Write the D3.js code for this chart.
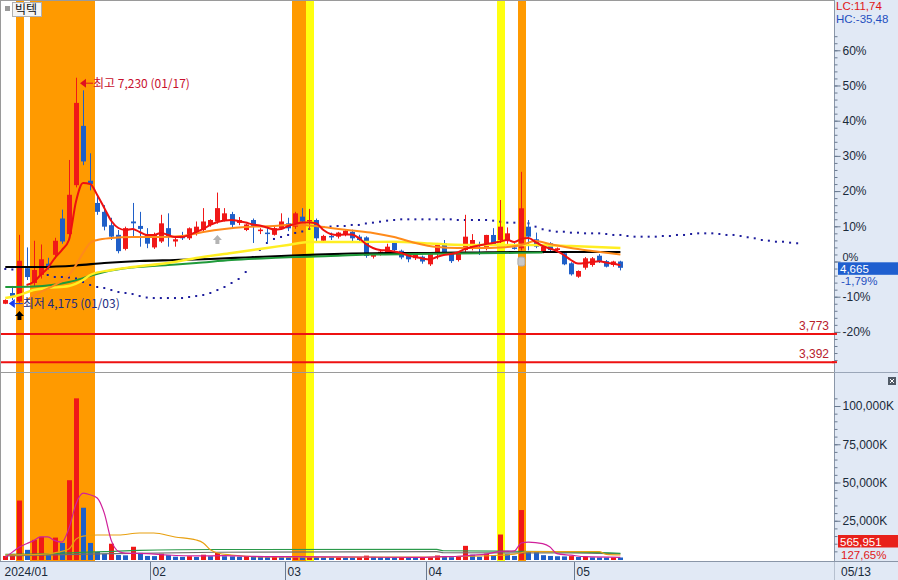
<!DOCTYPE html>
<html><head><meta charset="utf-8">
<script src="https://cdn.jsdelivr.net/npm/d3@7"></script>
<style>body{margin:0;background:#fff;} svg{display:block;font-family:"Liberation Sans",Arial,sans-serif;}</style>
</head><body><svg id="c" width="898" height="580"></svg>
<script>
// ---------------- DATA ----------------
const stockName = "빅텍";
const dates = ["01/03","01/04","01/05","01/08","01/09","01/10","01/11","01/12","01/15","01/16",
"01/17","01/18","01/19","01/22","01/23","01/24","01/25","01/26","01/29","01/30",
"01/31","02/01","02/02","02/05","02/06","02/07","02/08","02/13","02/14","02/15",
"02/16","02/19","02/20","02/21","02/22","02/23","02/26","02/27","02/28","02/29",
"03/04","03/05","03/06","03/07","03/08","03/11","03/12","03/13","03/14","03/15",
"03/18","03/19","03/20","03/21","03/22","03/25","03/26","03/27","03/28","03/29",
"04/01","04/02","04/03","04/04","04/05","04/08","04/09","04/11","04/12","04/15",
"04/16","04/17","04/18","04/19","04/22","04/23","04/24","04/25","04/26","04/29",
"04/30","05/02","05/03","05/07","05/08","05/09","05/10","05/13"];
const open = [4180,4325,4210,4660,4460,4570,4720,4840,5330,5120,
5780,6580,5840,5540,5420,5240,5110,4920,5290,5230,
5110,4940,5020,5200,5020,5085,5063,5130,5175,5243,
5290,5310,5390,5270,5175,5310,5165,5140,5110,5200,
5265,5220,5355,5290,5310,5030,5095,5085,5110,5150,
5085,5075,4815,4850,4870,5000,4895,4825,4795,4815,
4712,4850,4996,4860,4770,4905,4928,4980,4928,5108,
5040,5040,4940,4928,5220,5050,4882,4996,4905,4861,
4726,4545,4666,4703,4828,4755,4703,4750];
const high = [4240,4420,5110,4940,5030,4980,4800,5070,5450,6120,
7230,7060,6210,5650,5510,5340,5175,5220,5540,5420,
5200,5140,5380,5400,5070,5150,5210,5290,5470,5320,
5680,5470,5420,5350,5260,5330,5200,5220,5230,5400,
5340,5420,5470,5460,5330,5110,5140,5150,5180,5180,
5110,5090,4860,4900,4990,5010,4910,4860,4850,4830,
4860,5000,5040,4870,4870,5380,5120,5017,5110,5200,
5580,5210,5000,5960,5310,5140,4960,5010,4940,4870,
4740,4630,4810,4810,4850,4770,4760,4760];
const low = [4175,4230,4190,4500,4410,4520,4640,4790,4990,5100,
5750,6050,5710,5380,5170,5040,4860,4900,5085,4950,
4930,4920,5000,4950,4950,5040,5040,5100,5150,5220,
5260,5290,5200,5240,5160,5000,5120,4990,5100,5180,
5160,5190,5270,5180,5020,5000,5040,5060,5090,5000,
5020,4800,4790,4830,4840,4880,4780,4740,4770,4720,
4690,4780,4870,4730,4750,4880,4900,4838,4900,4960,
5000,4970,4910,4900,4900,4930,4860,4880,4890,4700,
4560,4530,4640,4680,4730,4670,4680,4630];
const close = [4230,4270,4760,4540,4635,4780,4680,5030,5020,5650,
6890,6100,5795,5420,5220,5085,4890,5200,5265,5190,
4990,5110,5265,5085,5050,5063,5198,5220,5290,5310,
5470,5400,5245,5310,5250,5220,5180,5125,5200,5290,
5198,5400,5290,5310,5063,5095,5080,5140,5165,5063,
5040,4825,4850,4882,4950,4905,4805,4780,4840,4750,
4850,4996,4875,4755,4860,5085,5040,4970,5108,4973,
5220,5130,4928,5468,5085,4950,4950,4905,4928,4712,
4577,4622,4793,4793,4747,4680,4750,4665];
// volume in thousands of shares (K)
const volume = [2000,3300,38200,6000,12500,14500,2500,14000,10500,51500,
105000,33500,10500,4600,3300,10000,2600,2400,8000,4000,
2000,1900,3500,2500,1500,1400,1800,1300,2800,1800,
4000,1800,1700,1500,1900,1600,1300,1200,1300,1200,
1100,1500,1300,1400,1200,1100,1000,1050,950,900,
1300,2200,1400,1200,1100,1000,1100,1000,900,1000,
1100,2300,1500,1200,1300,8600,2800,1500,3500,2500,
16000,3500,2000,32000,5000,4500,2500,2000,1800,1700,
1900,1300,1500,1100,1000,900,1000,566];
// price moving averages: [dayIndex, price]
const maRed = [[3,4433],[4,4473],[5,4568],[6,4662],[7,4797],[8,4905],[9,5040],[10,5560],[11,5810],[12,5796],
[13,5648],[14,5472],[15,5296],[16,5202],[17,5175],[18,5189],[19,5148],[20,5108],[21,5108],[22,5135],
[23,5108],[24,5080],[25,5080],[26,5108],[27,5148],[28,5189],[29,5243],[30,5283],[31,5303],[32,5310],
[33,5297],[34,5276],[35,5249],[36,5236],[37,5209],[38,5182],[39,5189],[40,5229],[41,5256],[42,5276],
[43,5276],[44,5263],[45,5175],[46,5121],[47,5108],[48,5114],[49,5114],[50,5067],[51,4986],[52,4932],
[53,4905],[54,4898],[55,4885],[56,4865],[57,4831],[58,4811],[59,4790],[60,4777],[61,4811],[62,4838],
[63,4851],[64,4871],[65,4919],[66,4946],[67,4966],[68,4986],[69,5000],[70,5020],[71,5040],[72,5013],
[73,5054],[74,5067],[75,5013],[76,4959],[77,4925],[78,4892],[79,4838],[80,4770],[81,4723],[82,4730],
[83,4745],[84,4755],[85,4735],[86,4720],[87,4700]];
const maOrange = [[3,4230],[5,4338],[7,4433],[9,4568],[10,4703],[11,4865],[12,5000],[13,5040],[15,5067],
[18,5080],[22,5080],[25,5094],[28,5148],[31,5189],[34,5216],[38,5229],[41,5249],[43,5236],[46,5202],
[49,5168],[52,5135],[55,5080],[58,5000],[61,4946],[64,4932],[67,4932],[70,4939],[73,4973],[75,5027],
[77,4986],[80,4932],[83,4892],[87,4845]];
const maYellow = [[0,4258],[2,4298],[4,4365],[6,4392],[9,4419],[11,4500],[12,4568],[15,4635],[18,4676],
[23,4730],[27,4797],[32,4865],[37,4932],[40,4973],[43,5013],[46,5013],[50,5013],[55,5017],[60,4993],
[65,4973],[70,4973],[75,4973],[80,4959],[87,4932]];
const maGreen = [[0,4406],[4,4413],[9,4473],[12,4554],[14,4608],[18,4669],[23,4703],[27,4730],[32,4770],
[37,4793],[41,4811],[46,4824],[52,4844],[58,4851],[64,4858],[70,4865],[76,4871]];
const maBlack = [[0,4676],[5,4676],[10,4696],[14,4730],[19,4757],[24,4770],[29,4784],[34,4804],[39,4824],
[44,4844],[49,4858],[54,4865],[60,4865],[66,4871],[72,4878],[80,4878],[87,4878]];
// leading span (dotted), one value per day index 0..112
const spanDots = [4649,4642,4622,4608,4595,4581,4568,4541,4541,4534,
4521,4473,4433,4406,4392,4365,4338,4325,4311,4284,
4264,4257,4257,4257,4257,4257,4271,4284,4298,4325,
4365,4406,4460,4514,4608,4811,4905,5000,5054,5081,
5108,5135,5155,5189,5202,5216,5222,5229,5229,5243,
5243,5263,5274,5287,5301,5310,5319,5319,5319,5319,
5319,5319,5319,5319,5310,5310,5310,5310,5310,5301,
5287,5274,5274,5274,5265,5220,5185,5166,5152,5152,
5139,5139,5130,5130,5130,5121,5108,5108,5094,5085,
5085,5085,5085,5094,5094,5108,5108,5121,5130,5130,
5130,5121,5108,5108,5094,5077,5063,5040,5031,5017,
5017,5004,4996];
// volume moving averages (K): [dayIndex, value]
const volMagenta = [[0,1000],[1,4500],[2,7800],[3,10000],[4,12000],[5,14400],[6,14400],[7,12000],[8,11000],
[9,20000],[10,36000],[11,43000],[12,42000],[13,39900],[14,30000],[15,12000],[16,5000],[17,3800],[20,3500],
[23,2600],[27,2000],[31,2200],[34,1800],[40,1500],[50,1300],[58,1000],[61,1400],[64,1800],[66,2500],
[68,3200],[70,5000],[72,5300],[73,10500],[74,11000],[76,10000],[77,8000],[78,3500],[80,2500],[82,1500],[87,1100]];
const volGold = [[0,2600],[5,3000],[8,5000],[9,6500],[10,13000],[11,15000],[13,15700],[16,15700],[19,17000],
[21,17000],[24,14400],[27,12400],[28,10500],[29,6000],[30,3900],[32,2600],[37,1300],[50,1200],[60,1300],
[65,1800],[69,2300],[72,3200],[74,4800],[84,4800],[85,3000],[87,2600]];
const volGreen = [[0,3100],[5,3400],[10,4200],[14,4800],[19,5700],[30,6200],[61,6300],[62,5400],[78,4800],[87,3700]];
const volGray = [[0,2000],[15,3500],[30,4400],[61,4800],[62,4100],[80,4000],[87,3300]];
// highlighted days
const orangeDays = ["01/05","01/09","01/10","01/11","01/12","01/15","01/16","01/17","01/18","01/19","03/05","03/06","04/19"];
const yellowDays = ["03/07","04/16"];
const supportLines = [3773, 3392];
const basePrice = 4750;           // previous close (0% reference)
const pctTicks = [-0.2,-0.1,0,0.1,0.2,0.3,0.4,0.5,0.6];
const volTicks = [25000,50000,75000,100000];
const monthStarts = ["01/03","02/01","03/04","04/01","05/02"];
const monthLabels = ["2024/01","02","03","04","05"];
const hiInfo = {label:"최고 7,230 (01/17)", date:"01/17", price:7230};
const loInfo = {label:"최저 4,175 (01/03)", date:"01/03", price:4175};
const lcText = "LC:11,74", hcText = "HC:-35,48";
const lastPriceText = "4,665", lastPctText = "-1,79%";
const lastVolText = "565,951", lastVolPctText = "127,65%";
const lastDateText = "05/13";

// ---------------- LAYOUT ----------------
const W=898, H=580, plotL=1, plotR=834, priceT=1, priceB=372, volT=373, volB=561;
const RED="#f01818", BLUE="#1f5fc8", AXBG="#e1e9f5";
const svg = d3.select("#c");
svg.append("rect").attr("width",W).attr("height",H).attr("fill","#fff");

const x = d3.scaleLinear().domain([0,87]).range([5.3,620.4]);
const step = x(1)-x(0);
const yP = d3.scaleLinear().domain([basePrice,7230]).range([261.5,77.7]);
const yPct = d3.scaleLinear().domain([0,0.6]).range([yP(basePrice), yP(basePrice*1.6)]);
const yV = d3.scaleLinear().domain([0,100000]).range([559,406]);
const idx = d => dates.indexOf(d);

const defs = svg.append("defs");
defs.append("clipPath").attr("id","cp").append("rect").attr("x",plotL).attr("y",priceT).attr("width",plotR-plotL).attr("height",priceB-priceT);
defs.append("clipPath").attr("id","cv").append("rect").attr("x",plotL).attr("y",volT).attr("width",plotR-plotL).attr("height",volB-volT);

// highlight bands (both panels)
const bands = svg.append("g").attr("shape-rendering","crispEdges");
function band(d,col){const i=idx(d); const l=Math.round(x(i)-step/2), r=Math.round(x(i)+step/2);
  bands.append("rect").attr("x",l).attr("y",priceT).attr("width",r-l+1).attr("height",volB-priceT).attr("fill",col);}
orangeDays.forEach(d=>band(d,"#ff9a00"));
yellowDays.forEach(d=>band(d,"#ffff10"));

// ---- price panel ----
const gp = svg.append("g").attr("clip-path","url(#cp)");
supportLines.forEach(v=>{
  gp.append("line").attr("x1",plotL).attr("x2",plotR).attr("y1",yP(v)).attr("y2",yP(v)).attr("stroke","#ee1111").attr("stroke-width",2);
  gp.append("text").attr("x",plotR-5).attr("y",yP(v)-4).attr("text-anchor","end").attr("font-size",12).attr("fill","#b8202c").text(d3.format(",")(v));
});
// dotted span
gp.selectAll(".dot").data(spanDots).join("rect").attr("x",(d,i)=>x(i)-1).attr("y",d=>yP(d)-1).attr("width",2).attr("height",2).attr("fill","#1c1c9c");

// candles
const cg = gp.append("g");
close.forEach((c,i)=>{
  const col = c>=open[i]?RED:BLUE;
  cg.append("line").attr("x1",Math.round(x(i))+0.5).attr("x2",Math.round(x(i))+0.5).attr("y1",yP(high[i])).attr("y2",yP(low[i])).attr("stroke",col).attr("stroke-width",1);
  const y1=yP(Math.max(c,open[i])), y2=yP(Math.min(c,open[i]));
  cg.append("rect").attr("x",Math.round(x(i))-2).attr("y",y1).attr("width",5).attr("height",Math.max(1.5,y2-y1)).attr("fill",col);
});

// moving averages
const lineP = d3.line().x(d=>x(d[0])).y(d=>yP(d[1])).curve(d3.curveMonotoneX);
[[maBlack,"#000000",2.2],[maGreen,"#1f9a3a",2],[maYellow,"#ffee22",2.4],[maOrange,"#ff8a1a",2],[maRed,"#ee1010",2]]
 .forEach(([d,c,w])=>gp.append("path").attr("d",lineP(d)).attr("fill","none").attr("stroke",c).attr("stroke-width",w));

// markers
(function(){const cx=x(idx("01/05")); gp.append("path").attr("d",`M${cx},311 L${cx+4.5},316 L${cx+2},316 L${cx+2},320 L${cx-2},320 L${cx-2},316 L${cx-4.5},316 Z`).attr("fill","#000");})();
(function(){const cx=x(idx("02/16")); gp.append("path").attr("d",`M${cx},235 L${cx+4.5},240 L${cx+2},240 L${cx+2},244 L${cx-2},244 L${cx-2},240 L${cx-4.5},240 Z`).attr("fill","#b4b4b4");})();
(function(){const cx=x(idx("04/19")); gp.append("rect").attr("x",cx-3.5).attr("y",257).attr("width",7).attr("height",9).attr("rx",2).attr("fill","#c8c8c8").attr("stroke","#a9a9a9");})();

// high label
(function(){
  const hx = x(idx(hiInfo.date))+4, hy = yP(hiInfo.price)+5.5;
  gp.append("path").attr("d",`M${hx},${hy} L${hx+6},${hy-4.5} L${hx+6},${hy+4.5} Z`).attr("fill","#e01020");
  gp.append("line").attr("x1",hx+6).attr("x2",hx+13).attr("y1",hy).attr("y2",hy).attr("stroke","#e01020");
  gp.append("text").attr("x",hx+13).attr("y",hy+4.5).attr("font-size",12).attr("font-family","'Noto Sans CJK KR',sans-serif").attr("fill","#c8102e").text(hiInfo.label);
})();
// low label
(function(){
  const lx = x(idx(loInfo.date))+3.5, ly = yP(loInfo.price)-0.5;
  gp.append("path").attr("d",`M${lx},${ly} L${lx+6},${ly-4.5} L${lx+6},${ly+4.5} Z`).attr("fill","#1a3cf0");
  gp.append("line").attr("x1",lx+6).attr("x2",lx+14).attr("y1",ly).attr("y2",ly).attr("stroke","#1a3cf0");
  gp.append("text").attr("x",lx+14).attr("y",ly+4.5).attr("font-size",12).attr("font-family","'Noto Sans CJK KR',sans-serif").attr("fill","#202a80").text(loInfo.label);
})();

// ---- volume panel ----
const gv = svg.append("g").attr("clip-path","url(#cv)");
volume.forEach((v,i)=>{
  const col = (i===0 || v>=volume[i-1]) ? RED : BLUE;
  const yt = Math.min(yV(v), yV(0)-1.5);
  gv.append("rect").attr("x",Math.round(x(i))-2).attr("y",yt).attr("width",5).attr("height",yV(0)+1-yt).attr("fill",col);
});
const lineV = d3.line().x(d=>x(d[0])).y(d=>yV(d[1])).curve(d3.curveMonotoneX);
[[volGray,"#707070"],[volGreen,"#2a9a4a"],[volGold,"#e8a010"],[volMagenta,"#d0209a"]]
 .forEach(([d,c])=>gv.append("path").attr("d",lineV(d)).attr("fill","none").attr("stroke",c).attr("stroke-width",1.2));

// panel frames
svg.append("line").attr("x1",0).attr("x2",plotR).attr("y1",372.5).attr("y2",372.5).attr("stroke","#9a9a9a");
svg.append("rect").attr("x",0.5).attr("y",0.5).attr("width",plotR).attr("height",volB).attr("fill","none").attr("stroke","#9a9a9a");

// ---- right axis ----
svg.append("rect").attr("x",plotR+0.5).attr("y",0).attr("width",W-plotR).attr("height",H).attr("fill",AXBG);
svg.append("line").attr("x1",plotR+0.5).attr("x2",plotR+0.5).attr("y1",0).attr("y2",H).attr("stroke","#8a96a8");
const minorPct = d3.range(-28,66,2).map(v=>v/100);
const ax1 = svg.append("g").attr("transform",`translate(${plotR+0.5},0)`);
ax1.call(d3.axisRight(yPct).tickValues(minorPct).tickSize(3).tickFormat(""));
ax1.call(g=>g.append("g").call(d3.axisRight(yPct).tickValues(pctTicks).tickSize(6).tickPadding(2).tickFormat(d=>Math.round(d*100)+"%")));
ax1.selectAll(".domain").remove();
ax1.selectAll("line").attr("stroke","#6a7a90");
ax1.selectAll("text").attr("font-size",12).attr("fill","#1a2a3a").attr("font-family","'Liberation Sans',Arial,sans-serif");
// the 0% label sits mostly behind the last-price box
ax1.selectAll(".tick").filter(d=>d===0).select("text").attr("dy","-0.05em").attr("font-size",11);
const minorVol = d3.range(5000,110000,5000).filter(v=>yV(v)>volT+8);
const ax2 = svg.append("g").attr("transform",`translate(${plotR+0.5},0)`);
ax2.call(d3.axisRight(yV).tickValues(minorVol).tickSize(3).tickFormat(""));
ax2.call(g=>g.append("g").call(d3.axisRight(yV).tickValues(volTicks).tickSize(6).tickPadding(2).tickFormat(d=>d3.format(",")(d)+"K")));
ax2.selectAll(".domain").remove();
ax2.selectAll("line").attr("stroke","#6a7a90");
ax2.selectAll("text").attr("font-size",12).attr("fill","#1a2a3a").attr("font-family","'Liberation Sans',Arial,sans-serif");
svg.append("line").attr("x1",plotR).attr("x2",W).attr("y1",372.5).attr("y2",372.5).attr("stroke","#9aa6b8");
supportLines.forEach(v=>svg.append("line").attr("x1",plotR-2).attr("x2",plotR+3).attr("y1",yP(v)).attr("y2",yP(v)).attr("stroke","#ee1111").attr("stroke-width",2));

svg.append("text").attr("x",836).attr("y",10).attr("font-size",11.5).attr("fill","#e01818").text(lcText);
svg.append("text").attr("x",836).attr("y",23).attr("font-size",11.5).attr("fill","#1f4fc0").text(hcText);
// last price box
const lpY = yP(close[87]);
svg.append("rect").attr("x",838).attr("y",lpY-5.5).attr("width",60).attr("height",12.5).attr("fill","#1f5fcf");
svg.append("text").attr("x",840).attr("y",lpY+5).attr("font-size",11.5).attr("fill","#fff").text(lastPriceText);
svg.append("text").attr("x",841).attr("y",lpY+17).attr("font-size",11.5).attr("fill","#1f4fc0").text(lastPctText);
// last volume box
svg.append("rect").attr("x",838).attr("y",535).attr("width",60).attr("height",12.5).attr("fill","#e8201a");
svg.append("text").attr("x",840).attr("y",545.5).attr("font-size",11.5).attr("fill","#fff").text(lastVolText);
svg.append("text").attr("x",841).attr("y",558.5).attr("font-size",11.5).attr("fill","#e01818").text(lastVolPctText);
// close button
svg.append("rect").attr("x",888).attr("y",377).attr("width",8).attr("height",8).attr("fill","#505a66");
svg.append("path").attr("d","M890,379 L894,383 M894,379 L890,383").attr("stroke","#fff").attr("stroke-width",1);

// ---- bottom axis ----
svg.append("rect").attr("x",0).attr("y",volB+0.5).attr("width",plotR+0.5).attr("height",H-volB).attr("fill",AXBG);
svg.append("line").attr("x1",0).attr("x2",W).attr("y1",volB+0.5).attr("y2",volB+0.5).attr("stroke","#8a96a8");
monthStarts.forEach((d,k)=>{
  const mx = Math.max(1, Math.round(x(idx(d))-step/2)+0.5);
  if(k>0) svg.append("line").attr("x1",mx).attr("x2",mx).attr("y1",volB+1).attr("y2",H).attr("stroke","#6a7a90");
  svg.append("text").attr("x",mx+2).attr("y",576).attr("font-size",12).attr("fill","#1a2a3a").text(monthLabels[k]);
});
svg.append("text").attr("x",841).attr("y",576).attr("font-size",12).attr("fill","#1a2a3a").text(lastDateText);

// ---- title ----
svg.append("rect").attr("x",5).attr("y",6).attr("width",5).attr("height",5).attr("fill","#9a9a9a");
svg.append("rect").attr("x",12.5).attr("y",2.5).attr("width",29).attr("height",14).attr("fill","#f4f4f4").attr("stroke","#b0b0b0");
svg.append("text").attr("x",15).attr("y",14).attr("font-size",12).attr("font-family","'Noto Sans CJK KR',sans-serif").attr("fill","#111").text(stockName);
</script></body></html>
